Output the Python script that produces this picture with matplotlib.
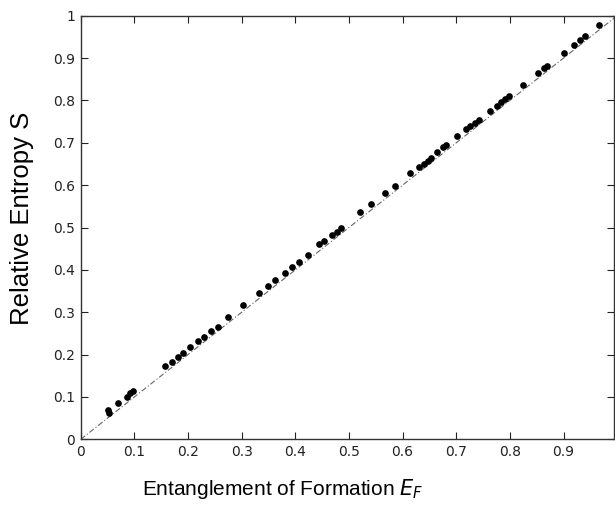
import matplotlib
matplotlib.use('Agg')
import matplotlib.pyplot as plt
import numpy as np

# entanglement of formation vs relative entropy
ef = [0.0515, 0.052, 0.070, 0.086, 0.092, 0.098, 0.157, 0.170, 0.181, 0.190,
      0.204, 0.219, 0.229, 0.243, 0.256, 0.274, 0.303, 0.333, 0.349, 0.3625,
      0.380, 0.394, 0.407, 0.4235, 0.4446, 0.454, 0.469, 0.4776, 0.4856, 0.521,
      0.5416, 0.5677, 0.585, 0.6144, 0.631, 0.639, 0.647, 0.6535, 0.664, 0.6746,
      0.681, 0.7015, 0.718, 0.726, 0.734, 0.743, 0.7636, 0.776, 0.784, 0.7916,
      0.798, 0.824, 0.8526, 0.863, 0.869, 0.900, 0.919, 0.930, 0.9395, 0.9657]
s = [0.069, 0.063, 0.085, 0.1006, 0.1086, 0.1147, 0.174, 0.182, 0.194, 0.204,
     0.217, 0.233, 0.242, 0.256, 0.266, 0.288, 0.317, 0.345, 0.363, 0.376,
     0.392, 0.406, 0.419, 0.435, 0.460, 0.468, 0.482, 0.490, 0.500, 0.536,
     0.5548, 0.5807, 0.598, 0.629, 0.642, 0.650, 0.658, 0.665, 0.679, 0.689,
     0.695, 0.716, 0.732, 0.740, 0.746, 0.754, 0.776, 0.787, 0.797, 0.8026,
     0.810, 0.836, 0.864, 0.876, 0.881, 0.913, 0.931, 0.943, 0.952, 0.978]
diag = [0, 1]
ticks = np.arange(0, 1.01, 0.1)
ticklabels = ['0', '0.1', '0.2', '0.3', '0.4', '0.5', '0.6', '0.7', '0.8', '0.9', '1']

plt.rcParams['font.family'] = ['Liberation Sans', 'DejaVu Sans']

fig = plt.figure(figsize=(6.15, 5.05), dpi=100)
ax = fig.add_axes([0.1312, 0.130, 0.8672, 0.839])

ax.plot(diag, diag, color='#666666', lw=0.8, ls=(0, (5, 2, 1, 2)))
ax.plot(ef, s, 'o', color='black', ms=3.8, mec='black')

ax.set_xlim(0, 0.994)
ax.set_ylim(0, 1)
ax.set_xticks(ticks[:10])
ax.set_xticklabels(ticklabels[:10], family='DejaVu Sans')
ax.set_yticks(ticks)
ax.set_yticklabels(ticklabels, family='DejaVu Sans')
ax.tick_params(direction='in', length=5, width=0.8, top=True, right=True,
               labelsize=10, colors='#222222', pad=4)
for sp in ax.spines.values():
    sp.set_color('#333333')
    sp.set_linewidth(1.0)

ax.set_xlabel('Entanglement of Formation $E_F$', fontsize=15)
ax.xaxis.set_label_coords(0.379, -0.088)
ax.set_ylabel('Relative Entropy S', fontsize=18.5)
ax.yaxis.set_label_coords(-0.088, 0.522)

fig.savefig('out.png', dpi=100)
